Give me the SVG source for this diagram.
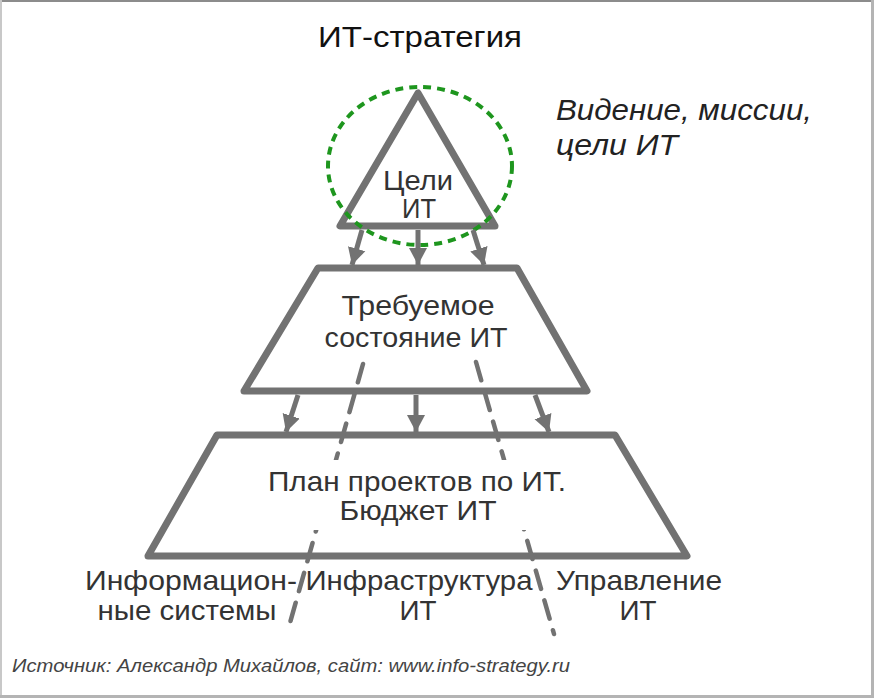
<svg xmlns="http://www.w3.org/2000/svg" width="874" height="698" viewBox="0 0 874 698">
<defs>
<style>
.shape{fill:#fff;stroke:#727272;stroke-width:7;stroke-linejoin:round}
.arr{stroke:#727272;stroke-width:5;fill:none}
.dash{stroke:#727272;stroke-width:4.5;stroke-dasharray:19 12;stroke-linecap:round;fill:none}
.lbl{font-family:"Liberation Sans",Arial,sans-serif;font-size:28px;fill:#333;text-anchor:middle}
.it{font-family:"Liberation Sans",Arial,sans-serif;font-style:italic;fill:#222}
</style>
<marker id="ah" markerUnits="userSpaceOnUse" markerWidth="22" markerHeight="22" viewBox="0 0 22 22" refX="17" refY="11" orient="auto">
<path d="M0,2 L17,11 L0,20 Z" fill="#727272"/>
</marker>
</defs>
<rect width="874" height="698" fill="#fff"/>
<line x1="0" y1="1" x2="874" y2="1" stroke="#8c8c8c" stroke-width="2"/>
<line x1="1" y1="0" x2="1" y2="698" stroke="#c8c8c8" stroke-width="2"/>
<line x1="872.5" y1="0" x2="872.5" y2="698" stroke="#b4b4b4" stroke-width="3"/>
<line x1="0" y1="696.5" x2="874" y2="696.5" stroke="#b4b4b4" stroke-width="3"/>

<text x="420" y="47" class="lbl" style="font-size:30px;fill:#111" textLength="204" lengthAdjust="spacingAndGlyphs">ИТ-стратегия</text>

<g id="goals">
<polygon class="shape" points="418,93 340,226 495,226"/>
<text class="lbl" x="418" y="190" style="font-size:27px" textLength="70" lengthAdjust="spacingAndGlyphs">Цели</text>
<text class="lbl" x="419" y="218" style="font-size:27px" textLength="34" lengthAdjust="spacingAndGlyphs">ИТ</text>
</g>

<g id="vision">
<ellipse cx="420" cy="166" rx="92" ry="79" fill="none" stroke="#1e961e" stroke-width="4" stroke-dasharray="8 6"/>
<text class="it" x="556" y="120" font-size="29" textLength="256" lengthAdjust="spacingAndGlyphs">Видение, миссии,</text>
<text class="it" x="556" y="155" font-size="29" textLength="122" lengthAdjust="spacingAndGlyphs">цели ИТ</text>
</g>

<g id="state">
<polygon class="shape" points="318,268 517,268 587,391 244,391"/>
<text class="lbl" x="418" y="315" textLength="153" lengthAdjust="spacingAndGlyphs">Требуемое</text>
<text class="lbl" x="416" y="347" textLength="183" lengthAdjust="spacingAndGlyphs">состояние ИТ</text>
</g>

<g id="plan">
<polygon class="shape" points="217,435 615,435 687,556 148,556"/>
</g>

<g id="connectors">
<line class="arr" x1="362" y1="230" x2="352" y2="265" marker-end="url(#ah)"/>
<line class="arr" x1="418" y1="230" x2="418" y2="265" marker-end="url(#ah)"/>
<line class="arr" x1="473" y1="230" x2="484" y2="265" marker-end="url(#ah)"/>
<line class="arr" x1="298" y1="395" x2="286" y2="432" marker-end="url(#ah)"/>
<line class="arr" x1="416" y1="395" x2="416" y2="432" marker-end="url(#ah)"/>
<line class="arr" x1="535" y1="395" x2="549" y2="432" marker-end="url(#ah)"/>
<line class="dash" x1="363" y1="364" x2="288" y2="630"/>
<line class="dash" x1="476" y1="362" x2="554" y2="634"/>
</g>

<g id="plan-label">
<rect x="262" y="460" width="312" height="70" fill="#fff"/>
<text class="lbl" x="417" y="491" textLength="298" lengthAdjust="spacingAndGlyphs">План проектов по ИТ.</text>
<text class="lbl" x="418" y="520" textLength="157" lengthAdjust="spacingAndGlyphs">Бюджет ИТ</text>
</g>

<g id="is">
<text class="lbl" x="191" y="590" textLength="212" lengthAdjust="spacingAndGlyphs">Информацион-</text>
<text class="lbl" x="187" y="620" textLength="179" lengthAdjust="spacingAndGlyphs">ные системы</text>
</g>
<g id="infra">
<text class="lbl" x="419" y="590" textLength="227" lengthAdjust="spacingAndGlyphs">Инфраструктура</text>
<text class="lbl" x="418" y="620" textLength="37" lengthAdjust="spacingAndGlyphs">ИТ</text>
</g>
<g id="mgmt">
<text class="lbl" x="639" y="590" textLength="166" lengthAdjust="spacingAndGlyphs">Управление</text>
<text class="lbl" x="638" y="620" textLength="37" lengthAdjust="spacingAndGlyphs">ИТ</text>
</g>

<text class="it" x="12" y="672" font-size="19" style="fill:#444" textLength="558" lengthAdjust="spacingAndGlyphs">Источник: Александр Михайлов, сайт: www.info-strategy.ru</text>
</svg>
